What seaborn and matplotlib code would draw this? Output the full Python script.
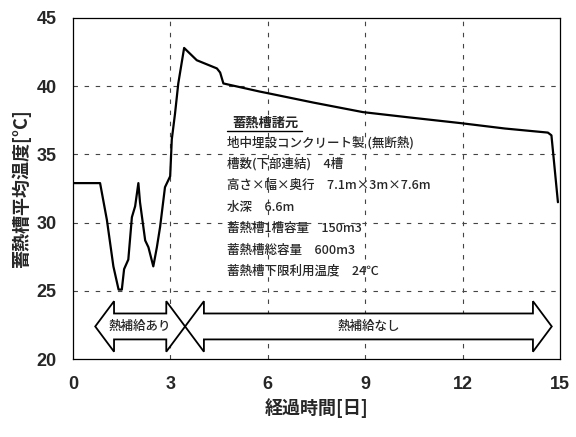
import matplotlib
matplotlib.use("Agg")
import matplotlib.pyplot as plt
import matplotlib.patches as mpatches
import seaborn as sns
import pandas as pd

# 経過時間[日] と 蓄熱槽平均温度[°C]
days = [0.0, 0.83, 1.04, 1.24, 1.40, 1.50, 1.57, 1.70, 1.81, 1.91, 2.01, 2.06,
        2.22, 2.32, 2.47, 2.58, 2.68, 2.83, 2.99, 3.04, 3.14, 3.24, 3.42, 3.81,
        4.43, 4.53, 4.63, 5.76, 5.97, 7.4, 8.93, 10.4, 11.92, 13.3, 14.63,
        14.74, 14.94]
temps = [32.9, 32.9, 30.2, 26.8, 25.1, 25.1, 26.6, 27.3, 30.4, 31.2, 32.9, 31.5,
         28.7, 28.2, 26.8, 28.2, 29.7, 32.6, 33.4, 36.1, 38.0, 40.2, 42.8, 41.9,
         41.3, 41.0, 40.2, 39.6, 39.5, 38.8, 38.1, 37.7, 37.3, 36.9, 36.6,
         36.4, 31.5]

x_ticks = [0, 3, 6, 9, 12, 15]
y_ticks = [20, 25, 30, 35, 40, 45]

spec_title = "蓄熱槽諸元"
spec_lines = [
    "地中埋設コンクリート製 (無断熱)",
    "槽数(下部連結)　4槽",
    "高さ×幅×奥行　7.1m×3m×7.6m",
    "水深　6.6m",
    "蓄熱槽1槽容量　150m3",
    "蓄熱槽総容量　600m3",
    "蓄熱槽下限利用温度　24℃",
]

# double arrows: (start day, end day, label)
arrows = [(0.68, 3.45, "熱補給あり"), (3.45, 14.75, "熱補給なし")]

sns.set_style("white")
plt.rcParams["font.family"] = ["Noto Sans CJK JP", "DejaVu Sans"]

df = pd.DataFrame({"day": days, "temp": temps})

fig = plt.figure(figsize=(5.76, 4.37), dpi=100)
ax = fig.add_axes([0.127, 0.178, 0.845, 0.781])

sns.lineplot(data=df, x="day", y="temp", color="black", linewidth=1.6, ax=ax)

ax.set_xlim(0, 15)
ax.set_ylim(20, 45)
ax.set_xticks(x_ticks)
ax.set_yticks(y_ticks)
ax.tick_params(length=0, pad=12)
for lab in ax.get_xticklabels() + ax.get_yticklabels():
    lab.set_family("Liberation Sans")
    lab.set_fontweight("bold")
    lab.set_fontsize(13)

for v in x_ticks[1:-1]:
    ax.axvline(v, color="#444444", linestyle=(0, (4, 6)), linewidth=0.8, zorder=0)
for v in y_ticks[1:-1]:
    ax.axhline(v, color="#444444", linestyle=(0, (4, 6)), linewidth=0.8, zorder=0)

for sp in ax.spines.values():
    sp.set_color("black")
    sp.set_linewidth(0.9)

ax.set_xlabel("経過時間[日]", fontsize=13, fontweight="bold", labelpad=4)
ax.set_ylabel("蓄熱槽平均温度[°C]", fontsize=13, fontweight="bold", labelpad=4)

# heat supply arrows
yc, shaft, head, head_len = 22.4, 0.95, 1.85, 0.58
for x0, x1, label in arrows:
    pts = [(x0, yc), (x0 + head_len, yc + head), (x0 + head_len, yc + shaft),
           (x1 - head_len, yc + shaft), (x1 - head_len, yc + head), (x1, yc),
           (x1 - head_len, yc - head), (x1 - head_len, yc - shaft),
           (x0 + head_len, yc - shaft), (x0 + head_len, yc - head)]
    ax.add_patch(mpatches.Polygon(pts, closed=True, facecolor="white",
                                  edgecolor="black", linewidth=1.3, zorder=3))
    ax.text((x0 + x1) / 2, yc, label, ha="center", va="center", fontsize=9,
            fontweight="medium", zorder=4)

# specification block
ax.text(4.9, 37.3, spec_title, fontsize=9.5, fontweight="bold", va="center")
ax.plot([4.75, 7.05], [36.7, 36.7], color="black", linewidth=1.0)
for i, line in enumerate(spec_lines):
    ax.text(4.74, 35.85 - i * 1.57, line, fontsize=9, fontweight="medium",
            va="center")

plt.savefig("out.png", dpi=100)
